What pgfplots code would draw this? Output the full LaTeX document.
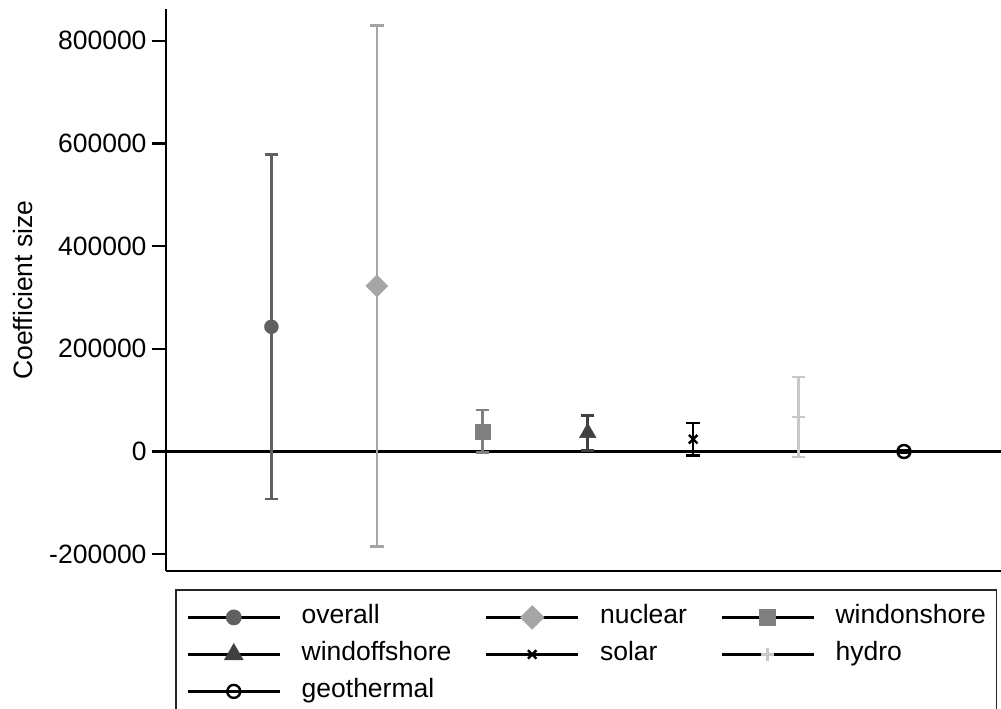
\documentclass[border=0pt]{standalone}
\usepackage{fontspec}
\setmainfont{Liberation Sans}
\usepackage{pgfplots}
\pgfplotsset{compat=1.18}

\definecolor{cOverall}{RGB}{96,96,96}
\definecolor{cNuclear}{RGB}{165,165,165}
\definecolor{cOnshore}{RGB}{128,128,128}
\definecolor{cOffshore}{RGB}{64,64,64}
\definecolor{cSolar}{RGB}{0,0,0}
\definecolor{cHydro}{RGB}{200,200,200}
\definecolor{cGeo}{RGB}{0,0,0}

\begin{document}
\begin{tikzpicture}[font=\fontsize{26.5}{31}\selectfont]
\begin{axis}[
  name=ax,
  scale only axis,
  width=835pt, height=562pt,
  xmin=0, xmax=7.92,
  ymin=-232800, ymax=862000,
  axis lines*=left,
  axis line style={line width=2.2pt, black, -},
  xtick=\empty,
  ytick={-200000,0,200000,400000,600000,800000},
  yticklabels={-200000,0,200000,400000,600000,800000},
  scaled y ticks=false,
  tick align=outside,
  major tick length=14.3pt,
  tick style={line width=2.2pt, black},
  yticklabel style={inner sep=0pt, xshift=-5pt},
  ylabel={Coefficient size},
  every axis y label/.style={at={(axis description cs:-0.1593,0.5)}, rotate=90, anchor=base},
  clip=false,
  legend columns=3,
  legend cell align=left,
  legend style={
    at={(axis description cs:0.01078,-0.03203)}, anchor=north west,
    draw=black!85, line width=1.8pt,
    inner xsep=10.7pt, inner ysep=15pt,
    row sep=12pt,
    nodes={inner sep=0pt, text height=19pt, text depth=6pt},
    /tikz/every odd column/.style={column sep=20.7pt},
    /tikz/every even column/.style={column sep=33.5pt},
  },
  legend image code/.code={
    \draw[black, line width=2.4pt, solid] (0pt,0pt) -- (92pt,0pt);
    \draw[mark repeat=2, mark phase=2] plot coordinates {(0pt,0pt) (46pt,0pt) (92pt,0pt)};
  },
  error bars/y dir=both,
  error bars/y explicit,
  error bars/error bar style={line width=2.6pt},
  error bars/error mark options={line width=2.6pt, mark size=6.7pt, rotate=90},
]
% reference line at zero
\addplot[black, line width=2.4pt, forget plot] coordinates {(0,0) (7.92,0)};

\addplot[only marks, color=cOverall, mark=*, mark size=7pt]
  coordinates {(1,243000) +- (0,335500)};
\addlegendentry{overall}
\addplot[only marks, color=cNuclear, mark=square*, mark size=7.8pt, mark options={rotate=45}]
  coordinates {(2,322500) +- (0,507500)};
\addlegendentry{nuclear}
\addplot[only marks, color=cOnshore, mark=square*, mark size=7.5pt]
  coordinates {(3,39500) +- (0,41000)};
\addlegendentry{windonshore}
\addplot[only marks, color=cOffshore, mark=triangle*, mark size=9.6pt]
  coordinates {(4,36400) +- (0,34100)};
\addlegendentry{windoffshore}
\addplot[only marks, color=cSolar, mark=x, mark size=6pt, mark options={line width=2.4pt}]
  coordinates {(5,24000) +- (0,31500)};
\addlegendentry{solar}
\addplot[only marks, color=cHydro, mark=+, mark size=6.5pt, mark options={line width=2.4pt}]
  coordinates {(6,67000) +- (0,78000)};
\addlegendentry{hydro}
\addplot[only marks, color=cGeo, mark=o, mark size=6.5pt, mark options={line width=2.4pt, fill=white}]
  coordinates {(7,0) +- (0,1500)};
\addlegendentry{geothermal}
\end{axis}
\pgfresetboundingbox
\useasboundingbox ([xshift=-166pt,yshift=-137pt]ax.south west) rectangle ([yshift=9pt]ax.north east);
\end{tikzpicture}
\end{document}
